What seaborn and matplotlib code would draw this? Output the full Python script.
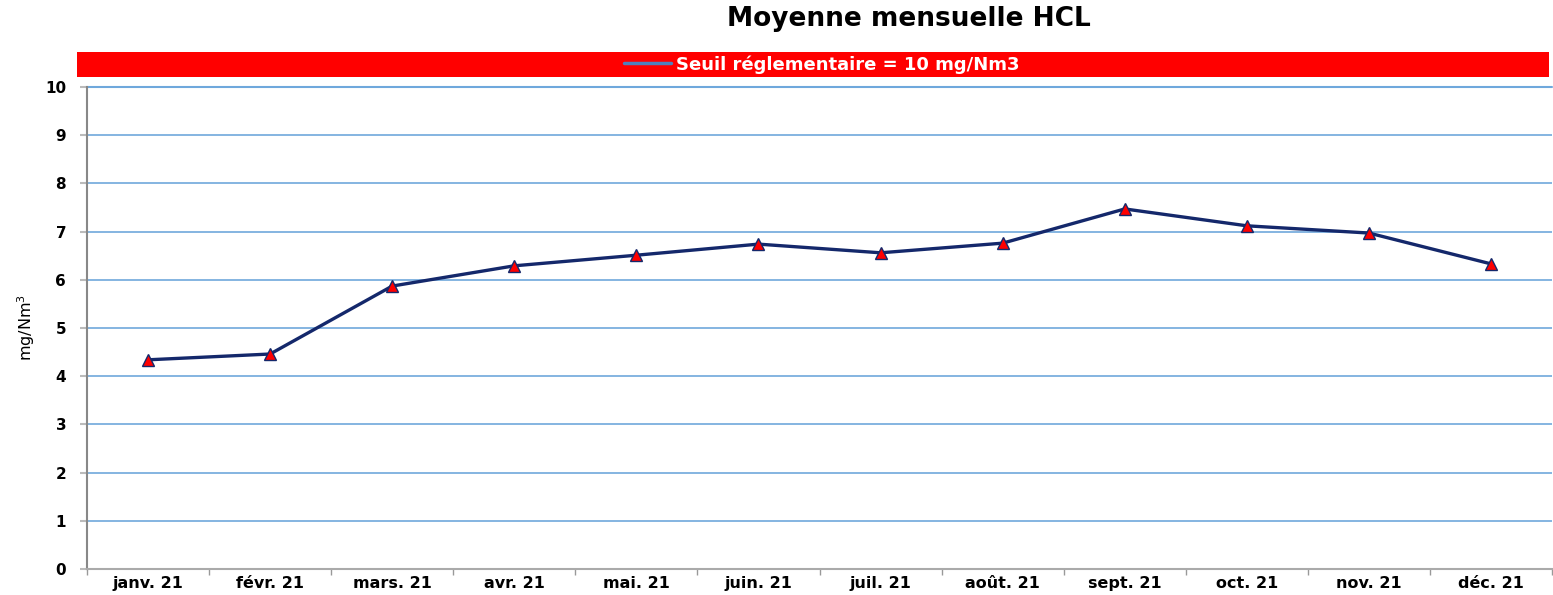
import numpy as np
import pandas as pd
import seaborn as sns
from matplotlib import pyplot as plt
from matplotlib.lines import Line2D
from matplotlib.patches import Rectangle

months = ['janv. 21', 'févr. 21', 'mars. 21', 'avr. 21', 'mai. 21', 'juin. 21',
          'juil. 21', 'août. 21', 'sept. 21', 'oct. 21', 'nov. 21', 'déc. 21']
hcl = [4.34, 4.46, 5.87, 6.29, 6.51, 6.74, 6.56, 6.76, 7.47, 7.12, 6.97, 6.33]
seuil = 10
seuil_label = 'Seuil réglementaire = 10 mg/Nm3'

sns.set_style('white')
plt.rcParams['font.family'] = ['DejaVu Sans']
plt.rcParams['text.color'] = 'black'
plt.rcParams['axes.labelcolor'] = 'black'
plt.rcParams['xtick.color'] = 'black'
plt.rcParams['ytick.color'] = 'black'

df = pd.DataFrame({'mois': months, 'hcl': hcl})
df['pos'] = np.arange(len(df))

fig = plt.figure(figsize=(15.53, 5.95), dpi=100)
ax = fig.add_axes([0.056, 0.0437, 0.9434, 0.8101])

ax.axhline(seuil, color='#6FA8DC', linewidth=1.5, clip_on=False, zorder=1)
sns.lineplot(data=df, x='pos', y='hcl', color='#14286B', linewidth=2.4,
             marker='^', markersize=8, markerfacecolor='#FF0000',
             markeredgecolor='#14286B', markeredgewidth=1.0, ax=ax, zorder=3)

ax.set_xlim(-0.5, len(months) - 0.5)
ax.set_ylim(0, 10)
ax.set_yticks(range(0, 11))
ax.set_xticks(df['pos'])
ax.set_xticklabels(months, fontweight='bold', fontsize=11.5)
ax.set_xticks(np.arange(-0.5, len(months)), minor=True)
for lbl in ax.get_yticklabels():
    lbl.set_fontweight('bold')
    lbl.set_fontsize(11)
ax.tick_params(axis='x', which='major', bottom=True, length=0, pad=5)
ax.tick_params(axis='x', which='minor', bottom=True, length=4,
               color='#999999', width=1)
ax.tick_params(axis='y', left=True, length=5, color='#BBBBBB', width=1.5, pad=10)
ax.yaxis.grid(True, color='#6FA8DC', linewidth=1.2)
ax.xaxis.grid(False)
for s in ['top', 'right']:
    ax.spines[s].set_visible(False)
ax.spines['left'].set_color('#888888')
ax.spines['left'].set_linewidth(1.5)
ax.spines['bottom'].set_color('#AAAAAA')
ax.spines['bottom'].set_linewidth(1.5)
ax.set_xlabel('')
ax.set_ylabel('mg/Nm$^3$', fontsize=11.5, labelpad=6)

fig.suptitle('Moyenne mensuelle HCL', fontsize=19, fontweight='bold',
             x=0.585, y=0.99, va='top')

fig.patches.append(Rectangle((77 / 1553, 1 - 77 / 595), (1549 - 77) / 1553, 25 / 595,
                             transform=fig.transFigure, facecolor='#FF0000',
                             edgecolor='none', zorder=0))
handle = Line2D([], [], color='#4F81BD', linewidth=2.5)
leg = fig.legend([handle], [seuil_label], loc='center',
                 bbox_to_anchor=(0.529, 1 - 64.5 / 595), frameon=False,
                 prop={'weight': 'bold', 'size': 13}, handlelength=2.6,
                 handletextpad=0.3, borderpad=0)
for t in leg.get_texts():
    t.set_color('white')

plt.savefig('out.png', dpi=100)
plt.close()
